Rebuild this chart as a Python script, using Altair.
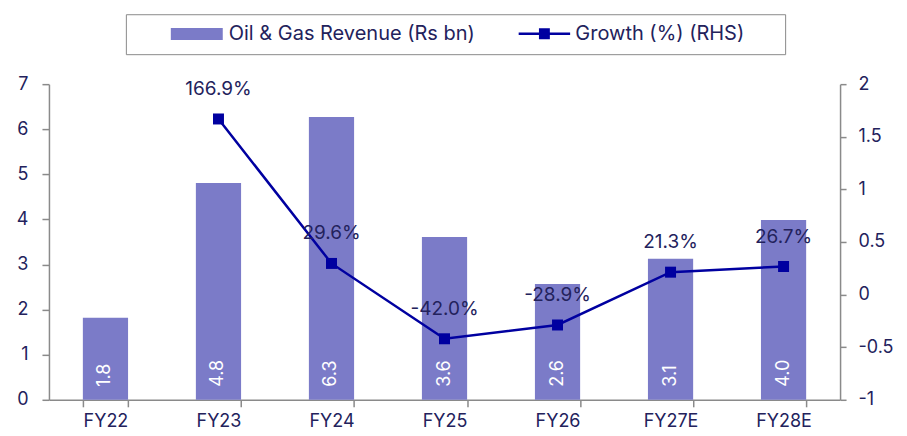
import altair as alt
import pandas as pd

years = ["FY22", "FY23", "FY24", "FY25", "FY26", "FY27E", "FY28E"]
revenue = [1.82, 4.81, 6.27, 3.61, 2.57, 3.13, 3.99]
growth = [None, 1.669, 0.296, -0.420, -0.289, 0.213, 0.267]

BAR_NAME = "Oil & Gas Revenue (Rs bn)"
LINE_NAME = "Growth (%) (RHS)"
BAR_COLOR = "#7b7bc8"
LINE_COLOR = "#0000a0"
TEXT_COLOR = "#23225c"
AXIS_COLOR = "#8a8a8a"
FONT = "Inter"
FS = 18
LFS = 20
DFS = 19

df = pd.DataFrame({"year": years, "revenue": revenue, "growth": growth})
df["rev_label"] = [f"{v:.1f}" for v in revenue]
df["growth_label"] = ["" if pd.isna(g) else f"{g * 100:.1f}%" for g in df["growth"]]
df["bar_series"] = BAR_NAME
df["line_series"] = LINE_NAME

base = alt.Chart(df)

x_enc = alt.X(
    "year:N",
    sort=years,
    scale=alt.Scale(paddingInner=0.6, paddingOuter=0.3),
    axis=alt.Axis(
        title=None, labelAngle=0, tickBand="extent", domainColor=AXIS_COLOR,
        domainWidth=1.5, tickColor=AXIS_COLOR, tickWidth=1.5, tickSize=7,
        labelColor=TEXT_COLOR, labelFont=FONT, labelFontSize=FS, labelPadding=6,
        grid=False,
    ),
)
x_plain = alt.X("year:N", sort=years)

# blank (non-whitespace) filler to widen the legend frame on the right
FILLER = "\u2800" * 2

# framed legend holding both labels; the line entry's own swatch is transparent
bar_legend = alt.Legend(
    title=None,
    orient="none",
    legendX=77,
    legendY=-70,
    direction="horizontal",
    strokeColor=AXIS_COLOR,
    padding=10,
    labelFont=FONT,
    labelFontSize=LFS,
    labelColor=TEXT_COLOR,
    labelLimit=900,
    symbolType="M-1,-0.23H1V0.23H-1Z",
    symbolSize=2704,
    symbolStrokeWidth=0,
    clipHeight=19,
    symbolOffset=35,
    labelOffset=6,
    columnPadding=7,
    labelExpr="datum.label == '" + LINE_NAME + "' ? datum.label + '" + FILLER + "' : datum.label",
)

# symbol-only legend for the line + square marker
line_legend = alt.Legend(
    title=None,
    orient="none",
    legendX=470,
    legendY=-60,
    direction="horizontal",
    padding=0,
    labelExpr="''",
    labelFontSize=1,
    labelOffset=0,
    symbolType="M-1,-0.05H1V0.05H-1Z M-0.21,-0.21H0.21V0.21H-0.21Z",
    symbolSize=2704,
    symbolStrokeWidth=0,
    symbolFillColor=LINE_COLOR,
    clipHeight=19,
)

bars = base.mark_bar().encode(
    x=x_enc,
    y=alt.Y(
        "revenue:Q",
        scale=alt.Scale(domain=[0, 7]),
        axis=alt.Axis(
            title=None, values=[0, 1, 2, 3, 4, 5, 6, 7], grid=False,
            domainColor=AXIS_COLOR, domainWidth=1.5, tickColor=AXIS_COLOR,
            tickWidth=1.5, tickSize=7, labelColor=TEXT_COLOR, labelFont=FONT,
            labelFontSize=FS, labelPadding=14,
        ),
    ),
    color=alt.Color(
        "bar_series:N",
        scale=alt.Scale(domain=[BAR_NAME, LINE_NAME], range=[BAR_COLOR, "transparent"]),
        legend=bar_legend,
    ),
)

bar_text = base.mark_text(
    angle=270, align="left", baseline="middle", dx=13, color="white",
    font=FONT, fontSize=FS,
).encode(
    x=x_plain,
    y=alt.datum(0),
    text="rev_label:N",
)

left = alt.layer(bars, bar_text)

valid = base.transform_filter("isValid(datum.growth)")

y_growth = alt.Y(
    "growth:Q",
    scale=alt.Scale(domain=[-1, 2]),
    axis=alt.Axis(
        title=None, orient="right", values=[-1, -0.5, 0, 0.5, 1, 1.5, 2],
        labelExpr="datum.value < 0 ? '-' + format(-datum.value, '~g') : format(datum.value, '~g')",
        grid=False, domainColor=AXIS_COLOR, domainWidth=1.5,
        tickColor=AXIS_COLOR, tickWidth=1.5, tickSize=6,
        labelColor=TEXT_COLOR, labelFont=FONT, labelFontSize=FS, labelPadding=12,
    ),
)

line = valid.mark_line(color=LINE_COLOR, strokeWidth=2.5).encode(
    x=x_plain,
    y=y_growth,
)

points = valid.mark_point(shape="square", size=121, filled=True, opacity=1).encode(
    x=x_plain,
    y=alt.Y("growth:Q"),
    color=alt.Color(
        "line_series:N",
        scale=alt.Scale(domain=[LINE_NAME], range=[LINE_COLOR]),
        legend=line_legend,
    ),
)

line_text = valid.mark_text(
    dy=-30, baseline="middle", align="center", color=TEXT_COLOR,
    font=FONT, fontSize=DFS,
).encode(
    x=x_plain,
    y=alt.Y("growth:Q"),
    text="growth_label:N",
)

right = alt.layer(line, points, line_text)

chart = (
    alt.layer(left, right)
    .resolve_scale(y="independent", color="independent")
    .properties(
        width=792, height=316,
        padding={"left": 8, "top": 5, "right": 5, "bottom": 0},
        background="white",
    )
    .configure_view(stroke=None)
)

chart.save("out.html", embed_options={"renderer": "svg", "actions": False})
